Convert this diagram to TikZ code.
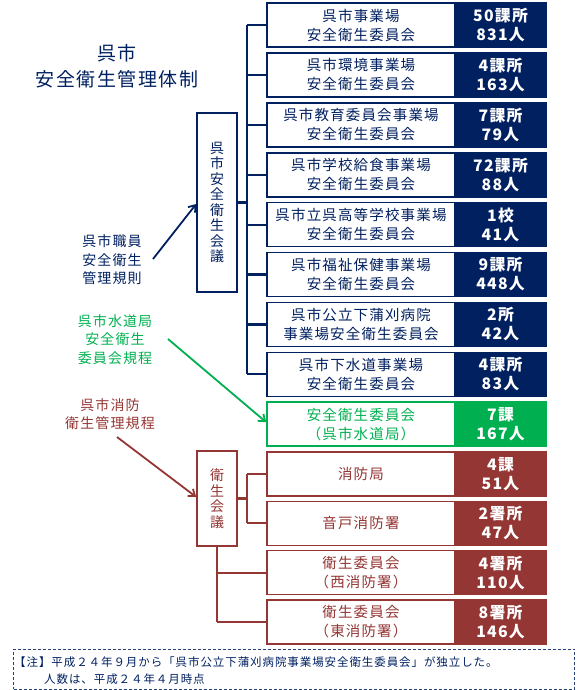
\documentclass[tikz,border=0pt]{standalone}
\usepackage{fontspec}
\setmainfont{Noto Sans CJK JP}[LetterSpace=8]
\usetikzlibrary{arrows.meta}
\definecolor{navy}{HTML}{002060}
\definecolor{grn}{HTML}{00B050}
\definecolor{brn}{HTML}{943634}
\begin{document}
\begin{tikzpicture}[x=1pt,y=-1pt,
  wbox/.style={draw=#1, line width=1.6pt, fill=white, minimum width=188pt, minimum height=44pt,
    inner sep=0pt, text=#1, align=center, font=\fontsize{14.5}{19}\selectfont},
  cbox/.style={draw=#1, fill=#1, line width=1.6pt, minimum width=91pt, minimum height=44pt,
    inner sep=0pt, text=white, align=center, font=\fontsize{15.8}{19}\selectfont\bfseries},
  council/.style={draw=#1, line width=1.6pt, fill=white, minimum width=40pt, inner sep=0pt,
    text=#1, align=center, font=\fontsize{14}{15.5}\selectfont},
  conn/.style={draw=#1, line width=2.2pt},
  arr/.style={draw=#1, line width=1.8pt, -{Straight Barb[length=6pt,width=9pt]}},
  lbl/.style={text=#1, align=center, inner sep=0pt, font=\fontsize{14}{18.5}\selectfont}
]
\useasboundingbox (0,0) rectangle (580,690);

% title
\node[text=navy, align=center, inner sep=0pt, font=\fontsize{19}{26}\selectfont] (title) at (117,66) {呉市\\安全衛生管理体制};

% navy rows
\def\rowy#1{25+49.9*(#1-1)}
\node[wbox=navy] (w1) at (361,{\rowy{1}}) {呉市事業場\\安全衛生委員会};
\node[cbox=navy] (n1) at (500.5,{\rowy{1}}) {50課所\\831人};
\node[wbox=navy] (w2) at (361,{\rowy{2}}) {呉市環境事業場\\安全衛生委員会};
\node[cbox=navy] (n2) at (500.5,{\rowy{2}}) {4課所\\163人};
\node[wbox=navy] (w3) at (361,{\rowy{3}}) {呉市教育委員会事業場\\安全衛生委員会};
\node[cbox=navy] (n3) at (500.5,{\rowy{3}}) {7課所\\79人};
\node[wbox=navy] (w4) at (361,{\rowy{4}}) {呉市学校給食事業場\\安全衛生委員会};
\node[cbox=navy] (n4) at (500.5,{\rowy{4}}) {72課所\\88人};
\node[wbox=navy] (w5) at (361,{\rowy{5}}) {呉市立呉高等学校事業場\\安全衛生委員会};
\node[cbox=navy] (n5) at (500.5,{\rowy{5}}) {1校\\41人};
\node[wbox=navy] (w6) at (361,{\rowy{6}}) {呉市福祉保健事業場\\安全衛生委員会};
\node[cbox=navy] (n6) at (500.5,{\rowy{6}}) {9課所\\448人};
\node[wbox=navy] (w7) at (361,{\rowy{7}}) {呉市公立下蒲刈病院\\事業場安全衛生委員会};
\node[cbox=navy] (n7) at (500.5,{\rowy{7}}) {2所\\42人};
\node[wbox=navy] (w8) at (361,{\rowy{8}}) {呉市下水道事業場\\安全衛生委員会};
\node[cbox=navy] (n8) at (500.5,{\rowy{8}}) {4課所\\83人};
\node[wbox=grn] (w9) at (361,{\rowy{9}}) {安全衛生委員会\\（呉市水道局）};
\node[cbox=grn] (n9) at (500.5,{\rowy{9}}) {7課\\167人};

% fire rows
\def\firey#1{474+49.3*(#1-1)}
\node[wbox=brn] (f1) at (361,{\firey{1}}) {消防局};
\node[cbox=brn] (g1) at (500.5,{\firey{1}}) {4課\\51人};
\node[wbox=brn] (f2) at (361,{\firey{2}}) {音戸消防署};
\node[cbox=brn] (g2) at (500.5,{\firey{2}}) {2署所\\47人};
\node[wbox=brn] (f3) at (361,{\firey{3}}) {衛生委員会\\（西消防署）};
\node[cbox=brn] (g3) at (500.5,{\firey{3}}) {4署所\\110人};
\node[wbox=brn] (f4) at (361,{\firey{4}}) {衛生委員会\\（東消防署）};
\node[cbox=brn] (g4) at (500.5,{\firey{4}}) {8署所\\146人};

% councils
\node[council=navy, minimum height=179pt] (c1) at (217,202.5) {呉\\市\\安\\全\\衛\\生\\会\\議};
\node[council=brn, minimum height=95pt] (c2) at (217,498.5) {衛\\生\\会\\議};

% navy bus
\foreach \i in {1,...,8} { \coordinate (b\i) at (247,{\rowy{\i}}); }
\draw[conn=navy] (b1) -- (b8);
\foreach \i in {1,...,8} { \draw[conn=navy] (b\i) -- (w\i.west); }
\draw[conn=navy] (c1.east) -- (c1.east -| b1);

% fire bus
\coordinate (fb1) at (247,{\firey{1}});
\coordinate (fb2) at (247,{\firey{2}});
\draw[conn=brn] (fb1) -- (fb2);
\draw[conn=brn] (fb1) -- (f1.west);
\draw[conn=brn] (fb2) -- (f2.west);
\draw[conn=brn] (c2.east) -- (c2.east -| fb1);
\coordinate (fb3) at (217,{\firey{3}});
\coordinate (fb4) at (217,{\firey{4}});
\draw[conn=brn] (c2.south) -- (fb4);
\draw[conn=brn] (fb3) -- (f3.west);
\draw[conn=brn] (fb4) -- (f4.west);

% rule labels
\node[lbl=navy] (r1) at (112,260) {呉市職員\\安全衛生\\管理規則};
\node[lbl=grn] (r2) at (115,339.5) {呉市水道局\\安全衛生\\委員会規程};
\node[lbl=brn] (r3) at (110,414) {呉市消防\\衛生管理規程};

\coordinate (a1) at (153,259);
\coordinate (a2) at (168,339);
\coordinate (a3) at (117,437);
\draw[arr=navy] (a1) -- ([yshift=-1.5pt]c1.west);
\draw[arr=grn] (a2) -- ([yshift=2pt]w9.west);
\draw[arr=brn] (a3) -- ([yshift=1.5pt]c2.west);

% note
\node[draw=navy!85, dashed, dash pattern=on 3pt off 2pt, line width=0.9pt, minimum width=561pt, minimum height=40pt, inner sep=0pt] (note) at (294,669) {};
\node[anchor=west, text=navy, inner sep=0pt, font=\fontsize{11.5}{14}\selectfont] (nt1) at (14,662) {【注】平成２４年９月から「呉市公立下蒲刈病院事業場安全衛生委員会」が独立した。};
\node[anchor=west, text=navy, inner sep=0pt, font=\fontsize{11.5}{14}\selectfont] (nt2) at (44,679) {人数は、平成２４年４月時点};
\end{tikzpicture}
\end{document}
